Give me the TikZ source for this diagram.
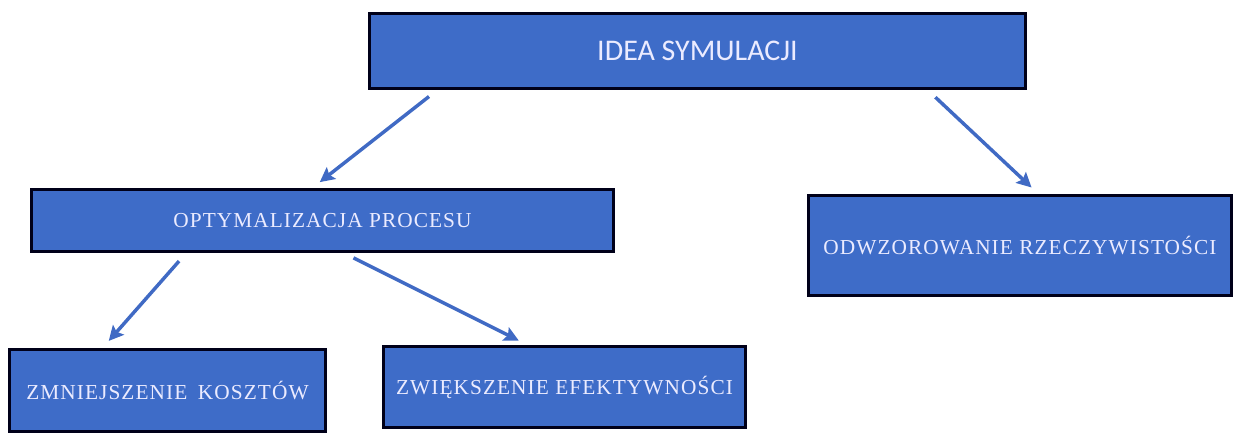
\documentclass[tikz,border=0pt]{standalone}
\usepackage{fontspec}
\setmainfont{Liberation Serif}[LetterSpace=5]
\newfontfamily\ideafont{Carlito}
\usetikzlibrary{arrows.meta}
\definecolor{boxblue}{RGB}{62,108,200}
\definecolor{arrowblue}{RGB}{64,106,196}
\tikzstyle{block} = [draw=black!90!blue, line width=2.4pt, fill=boxblue, text=white!92!blue, inner sep=0pt, font=\fontsize{16}{19}\selectfont]
\tikzstyle{arrow} = [draw=arrowblue, line width=2.6pt, -{Stealth[length=11pt,width=11pt,inset=2pt]}, shorten <=8pt, shorten >=7pt]

\begin{document}
\begin{tikzpicture}[x=0.75pt,y=0.75pt,yscale=-1,xscale=1]
\useasboundingbox (0,0) rectangle (1245,432);

% Top box
\node [block, minimum width=492pt, minimum height=56pt, font=\ideafont\fontsize{22.5}{26}\selectfont] (idea) at (697.5,51) {IDEA SYMULACJI};
% Second row
\node [block, minimum width=436.5pt, minimum height=46.5pt] (opt) at (322.5,220.5) {OPTYMALIZACJA PROCESU};
\node [block, minimum width=317pt, minimum height=75pt] (odw) at (1020,245.5) {ODWZOROWANIE RZECZYWISTOŚCI};
% Bottom row
\node [block, minimum width=237pt, minimum height=61.5pt] (zmn) at (167.5,390.5) {ZMNIEJSZENIE\hspace{0.5em}KOSZTÓW};
\node [block, minimum width=271.5pt, minimum height=61pt] (zwi) at (564.5,387) {ZWIĘKSZENIE EFEKTYWNOŚCI};

% Arrows
\draw [arrow] ([shift={(69.5,0)}]idea.south west) -- ([shift={(282.5,0)}]opt.north west);
\draw [arrow] ([shift={(559.7,0)}]idea.south west) -- ([shift={(231.3,0)}]odw.north west);
\draw [arrow] ([shift={(156.2,0)}]opt.south west) -- ([shift={(94.7,0)}]zmn.north west);
\draw [arrow] ([shift={(314,0)}]opt.south west) -- ([shift={(145.2,0)}]zwi.north west);

\end{tikzpicture}
\end{document}
